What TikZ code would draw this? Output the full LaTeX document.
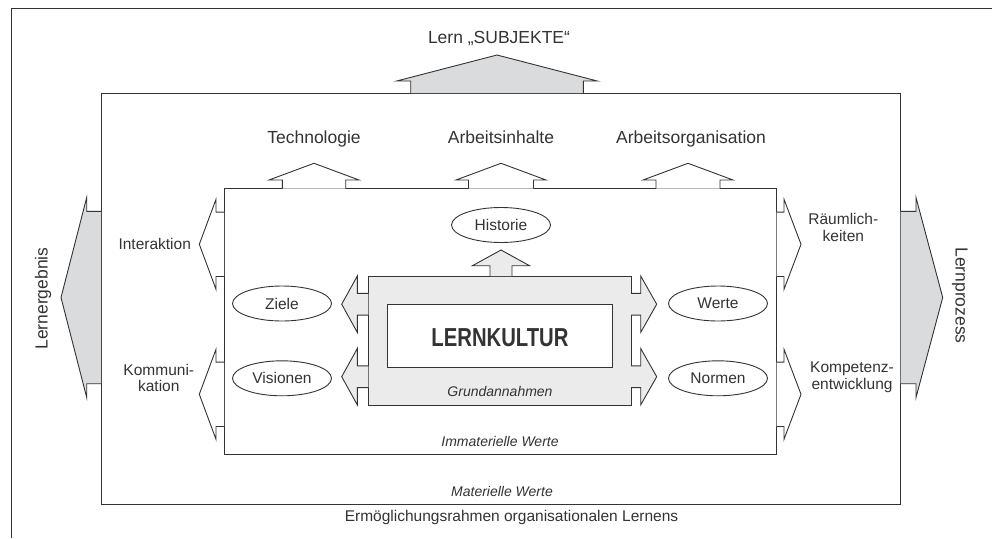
\documentclass[tikz,border=0pt]{standalone}
\usepackage{fontspec}
\setmainfont{Liberation Sans}
\usetikzlibrary{shapes.geometric}
\definecolor{ink}{HTML}{333333}
\definecolor{bigfill}{HTML}{DADBDD}
\definecolor{boxfill}{HTML}{EBEBEB}
% vertical block arrow: cx, base, headbase, tip, shaft half width, head half width, fill
\newcommand{\blkv}[7]{%
  \fill[#7] ({#1-#5},#2) -- ({#1-#5},#3) -- ({#1-#6},#3) -- (#1,#4) -- ({#1+#6},#3) -- ({#1+#5},#3) -- ({#1+#5},#2) -- cycle;
  \draw[line] ({#1-#5},#2) -- ({#1-#5},#3) -- ({#1-#6},#3) -- (#1,#4) -- ({#1+#6},#3) -- ({#1+#5},#3) -- ({#1+#5},#2);}
% horizontal block arrow: cy, base, headbase, tip, shaft half width, head half width, fill
\newcommand{\blkh}[7]{%
  \fill[#7] (#2,{#1-#5}) -- (#3,{#1-#5}) -- (#3,{#1-#6}) -- (#4,#1) -- (#3,{#1+#6}) -- (#3,{#1+#5}) -- (#2,{#1+#5}) -- cycle;
  \draw[line] (#2,{#1-#5}) -- (#3,{#1-#5}) -- (#3,{#1-#6}) -- (#4,#1) -- (#3,{#1+#6}) -- (#3,{#1+#5}) -- (#2,{#1+#5});}
\tikzset{
  line/.style={draw=ink, line width=0.9pt, line join=miter},
  box/.style={line, rectangle, inner sep=0pt, outer sep=0pt},
  oval/.style={line, ellipse, minimum width=99pt, minimum height=35pt, inner sep=0pt, text=ink, font=\fontsize{15.5}{17}\selectfont},
  toplbl/.style={anchor=base, text=ink, inner sep=0pt, font=\fontsize{17.5}{19}\selectfont},
  sidelbl/.style={anchor=base, text=ink, inner sep=0pt, align=center, font=\fontsize{15.5}{16.7}\selectfont},
  itlbl/.style={anchor=base, text=ink, inner sep=0pt, font=\fontsize{14}{16}\selectfont\itshape},
}
\begin{document}
\begin{tikzpicture}[x=1pt,y=-1pt]
\useasboundingbox (0,0) rectangle (992,538);
% outer frame
\coordinate (fbl) at (11,538);
\coordinate (ftl) at (11,8);
\coordinate (ftr) at (992,8);
\draw[line] (fbl) -- (ftl) -- (ftr);
% materielle Werte box
\node[box, minimum width=799.7pt, minimum height=411.5pt] (mat) at (500.85,298.75) {};
% big arrows
\blkv{497}{93}{81}{55}{86.3}{100.3}{bigfill}
\blkh{297.5}{101}{86.7}{61}{86.2}{100}{bigfill}
\blkh{297.5}{900.7}{916}{942.7}{86.2}{100}{bigfill}
% immaterielle Werte box
\node[box, fill=white, minimum width=552.7pt, minimum height=265.8pt] (immat) at (500.35,321.4) {};
% arrows out of inner box
\blkv{314}{188.5}{180}{163.3}{31.7}{45}{white}
\blkv{501}{188.5}{180}{163.3}{32.5}{45}{white}
\blkv{688}{188.5}{180}{163.3}{32}{45}{white}
\blkh{244.3}{224}{216}{199.3}{32.2}{45}{white}
\blkh{394.3}{224}{216}{199.3}{32.2}{45}{white}
\blkh{244.3}{776.7}{784}{801}{32.2}{45}{white}
\blkh{394.3}{776.7}{784}{801}{32.2}{45}{white}
% Grundannahmen box
\node[box, fill=boxfill, minimum width=262.7pt, minimum height=129pt] (grund) at (499.65,340.5) {};
\node[box, fill=white, minimum width=225pt, minimum height=62.7pt] (lk) at (499.8,335.65) {};
% arrows out of grey box
\blkv{501}{276}{265.7}{250}{11}{28.5}{boxfill}
\blkh{304.2}{368.3}{357.3}{341.7}{10.9}{28.2}{boxfill}
\blkh{376.7}{368.3}{357.3}{341.7}{10.9}{28.2}{boxfill}
\blkh{304.2}{631}{640.7}{656.7}{10.9}{28.2}{boxfill}
\blkh{376.7}{631}{640.7}{656.7}{10.9}{28.2}{boxfill}
% ovals
\node[oval] (hist) at (501,225) {Historie};
\node[oval] (ziele) at (282,303.5) {Ziele};
\node[oval] (vis) at (282,378.3) {Visionen};
\node[oval] (werte) at (718,303.5) {Werte};
\node[oval] (norm) at (718,378.3) {Normen};
% texts
\node[anchor=base, text=ink, inner sep=0pt, font=\fontsize{26}{28}\selectfont\bfseries] (lktxt) at (500,346.7) {\scalebox{0.78}[1]{LERNKULTUR}};
\node[itlbl] (grundtxt) at (500,396) {Grundannahmen};
\node[itlbl] (immattxt) at (500,446.7) {Immaterielle Werte};
\node[itlbl] (mattxt) at (502,496.7) {Materielle Werte};
\node[anchor=base, text=ink, inner sep=0pt, font=\fontsize{15.5}{17}\selectfont] (erm) at (511.5,521.7) {Ermöglichungsrahmen organisationalen Lernens};
\node[toplbl] (subj) at (499,43.3) {Lern „SUBJEKTE“};
\node[toplbl] (tech) at (314,143.3) {Technologie};
\node[toplbl] (inh) at (501,143.3) {Arbeitsinhalte};
\node[toplbl] (org) at (691,143.3) {Arbeitsorganisation};
\node[sidelbl] (inter) at (154.7,249) {Interaktion};
\node[sidelbl] (komm) at (158.8,391.7) {Kommuni-\\kation};
\node[sidelbl] (raum) at (843.3,241) {Räumlich-\\keiten};
\node[sidelbl] (komp) at (852,389) {Kompetenz-\\entwicklung};
\node[anchor=base, rotate=90, text=ink, inner sep=0pt, font=\fontsize{17.5}{19}\selectfont] (erg) at (47.5,298.5) {Lernergebnis};
\node[anchor=base, rotate=-90, text=ink, inner sep=0pt, font=\fontsize{17.5}{19}\selectfont] (proz) at (955.5,295.5) {Lernprozess};
\end{tikzpicture}
\end{document}
